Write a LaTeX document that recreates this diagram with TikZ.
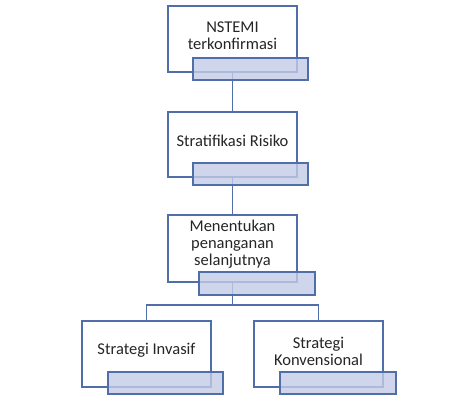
\documentclass[tikz,border=0pt]{standalone}
\usepackage{fontspec}
\setmainfont{Carlito}
\begin{document}
\begin{tikzpicture}[x=1pt,y=1pt,
  mainbox/.style={draw=boxblue,fill=white,line width=1.4pt,minimum width=129pt,minimum height=66pt,inner sep=0pt},
  subbox/.style={draw=boxblue,fill=subfill,fill opacity=0.8,line width=1.4pt,minimum height=22pt,inner sep=0pt},
  lbl/.style={align=center,font=\fontsize{16.5}{17}\selectfont,text=black!85,inner sep=0pt},
  conn/.style={draw=boxblue,line width=1.6pt}]
\definecolor{boxblue}{RGB}{80,110,168}
\definecolor{subfill}{RGB}{196,204,232}
\useasboundingbox (0,0) rectangle (474,404);
\fill[white] (0,0) rectangle (474,404);
% main boxes (placed first to name anchors)
\node[mainbox] (m1) at (232.5,365) {};
\node[mainbox,minimum height=65pt] (m2) at (232.5,259.5) {};
\node[mainbox,minimum height=67pt] (m3) at (232.5,155.5) {};
\node[mainbox] (m4) at (146.5,50) {};
\node[mainbox] (m5) at (318.5,50) {};
\coordinate (j) at (232.5,99);
% connectors
\path[conn] (m1.south) -- (m2.north);
\path[conn] (m2.south) -- (m3.north);
\path[conn] (m3.south) -- (j);
\path[conn] (m4.north) |- (j) -| (m5.north);
% texts
\node[lbl] (t1) at (232.5,368) {NSTEMI\\terkonfirmasi};
\node[lbl] (t2) at (232.5,263.5) {Stratifikasi Risiko};
\node[lbl] (t3) at (232.5,160) {Menentukan\\penanganan\\selanjutnya};
\node[lbl] (t4) at (146.5,54) {Strategi Invasif};
\node[lbl] (t5) at (318.5,53) {Strategi\\Konvensional};
% sub boxes
\node[subbox,minimum width=115pt] (s1) at (250.5,335) {};
\node[subbox,minimum width=115pt] (s2) at (250.5,230) {};
\node[subbox,minimum width=116pt,minimum height=23pt] (s3) at (257,120.5) {};
\node[subbox,minimum width=115pt] (s4) at (165.5,21) {};
\node[subbox,minimum width=116pt] (s5) at (338,21) {};
\end{tikzpicture}
\end{document}
